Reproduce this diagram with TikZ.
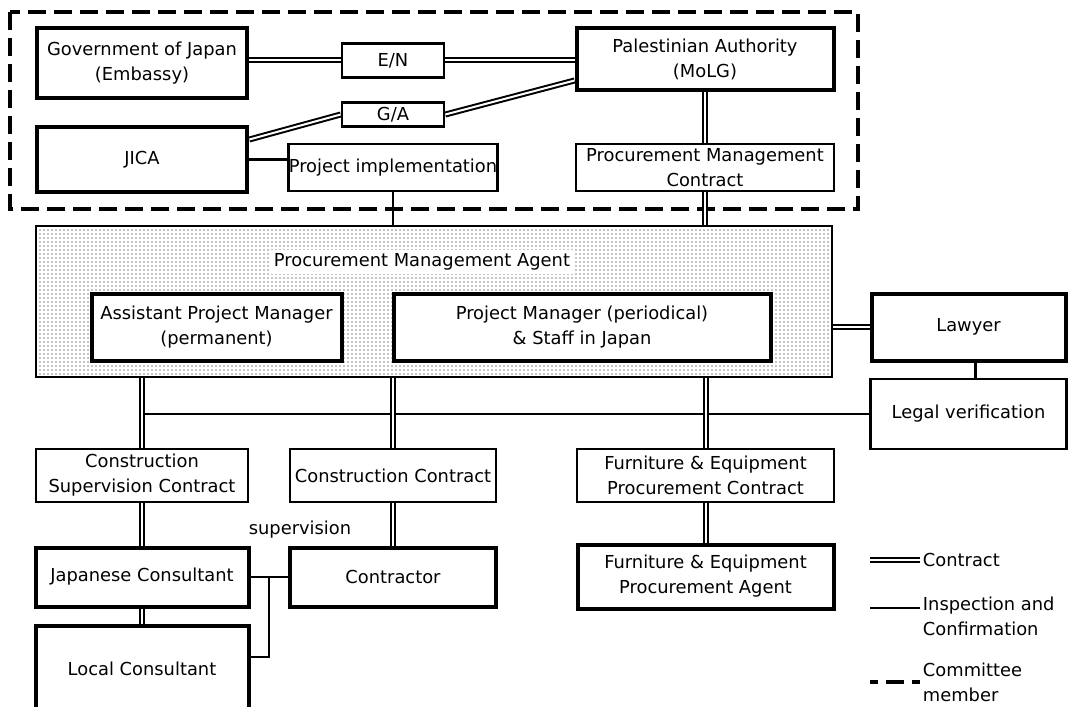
\documentclass[tikz,border=0pt]{standalone}
\usepackage{fontspec}
\setmainfont{DejaVu Sans}
\usetikzlibrary{positioning, patterns}
\pgfdeclarelayer{bg}
\pgfsetlayers{bg,main}

\begin{document}
\begin{tikzpicture}[
  x=0.75pt, y=-0.75pt,
  font=\fontsize{13.4}{18.75}\selectfont,
  party/.style={draw, line width=3pt, align=center, inner sep=0pt, fill=white},
  paper/.style={draw, line width=2pt, align=center, inner sep=0pt, fill=white},
  contract/.style={line width=1.5pt, double, double distance=1.5pt},
  inspect/.style={line width=2pt},
  member/.style={line width=3.5pt, dash pattern=on 13.5pt off 6pt}
]
  \useasboundingbox (0,0) rectangle (1069,706);

  \node[party, minimum width=158pt, minimum height=52.5pt] (gov) at (142,63.5) {Government of Japan\\(Embassy)};
  \node[paper, minimum width=76.5pt, minimum height=25.5pt] (en) at (393,60.5) {E/N};
  \node[paper, minimum width=76.5pt, minimum height=18pt] (ga) at (393,114.5) {G/A};
  \node[party, minimum width=158pt, minimum height=48pt] (jica) at (142,159.5) {JICA};
  \node[paper, minimum width=154.5pt, minimum height=35.25pt] (impl) at (393,167.5) {Project implementation};
  \node[party, minimum width=192.75pt, minimum height=46.5pt] (pa) at (705,59.5) {Palestinian Authority\\(MoLG)};
  \node[paper, minimum width=193.5pt, minimum height=35.25pt] (pmc) at (705,167.5) {Procurement Management\\Contract};

  \node[draw, line width=2pt, pattern=dots, pattern color=black, minimum width=597pt, minimum height=113.25pt] (pma) at (434,301.5) {};
  \node[fill=white, inner sep=3pt] (pmalabel) at (422,262) {Procurement Management Agent};
  \node[party, minimum width=187.5pt, minimum height=50.25pt] (apm) at (216.5,327) {Assistant Project Manager\\(permanent)};
  \node[party, minimum width=282.75pt, minimum height=50.25pt] (pm) at (582,327) {Project Manager (periodical)\\\& Staff in Japan};
  \node[party, minimum width=145.5pt, minimum height=50.25pt] (lawyer) at (968.5,327) {Lawyer};
  \node[paper, minimum width=147pt, minimum height=52.5pt] (legal) at (968.5,414) {Legal verification};

  \node[paper, minimum width=159pt, minimum height=39.75pt] (csc) at (142,475.5) {Construction\\Supervision Contract};
  \node[paper, minimum width=154.5pt, minimum height=39.75pt] (cc) at (393,475.5) {Construction Contract};
  \node[paper, minimum width=192.75pt, minimum height=39.75pt] (fepc) at (705.5,475.5) {Furniture \& Equipment\\Procurement Contract};
  \node[party, minimum width=159.75pt, minimum height=44.25pt] (jc) at (142,577) {Japanese Consultant};
  \node[party, minimum width=154.5pt, minimum height=44.25pt] (con) at (393,577) {Contractor};
  \node[party, minimum width=192pt, minimum height=48pt] (fepa) at (705.5,576.5) {Furniture \& Equipment\\Procurement Agent};
  \node[party, minimum width=159.75pt, minimum height=64.5pt] (local) at (142,669) {Local Consultant};
  \node (svlabel) at (300,530) {supervision};

  \coordinate (split) at (269,577);
  \coordinate (lgc) at (870,560);
  \coordinate (lgi) at (870,608);
  \coordinate (lgm) at (870,682);

  \begin{pgfonlayer}{bg}
    \draw[member] (10,12) rectangle (858,209);
    \draw[contract] (gov.east |- en) -- (en.west);
    \draw[contract] (en.east) -- (en.east -| pa.west);
    \draw[contract] ([yshift=-10.5pt]jica.north east) -- (ga.west);
    \draw[contract] (ga.east) -- ([yshift=9pt]pa.south west);
    \draw[inspect] (jica.east) -- (jica.east -| impl.west);
    \draw[contract] (pa.south) -- (pmc.north);
    \draw[inspect] (impl.south) -- (impl.south |- pma.north);
    \draw[contract] (pmc.south) -- (pmc.south |- pma.north);
    \draw[contract] (pma.east |- lawyer) -- (lawyer.west);
    \draw[inspect] ([xshift=5pt]lawyer.south) -- ([xshift=5pt]legal.north);
    \draw[inspect] (csc.north |- legal.west) -- (legal.west);
    \draw[contract] (pma.south -| csc) -- (csc.north);
    \draw[contract] (csc.south) -- (jc.north);
    \draw[contract] (jc.south) -- (local.north);
    \draw[contract] (pma.south -| cc) -- (cc.north);
    \draw[contract] (cc.south) -- (con.north);
    \draw[contract] (pma.south -| fepc) -- (fepc.north);
    \draw[contract] (fepc.south) -- (fepa.north);
    \draw[inspect] (jc.east) -- (con.west);
    \draw[inspect] (split) |- ([yshift=9pt]local.east);
  \end{pgfonlayer}

  \draw[contract] (lgc) -- ++(50,0) coordinate (lgce);
  \draw[inspect] (lgi) -- ++(50,0) coordinate (lgie);
  \draw[member, dash phase=7.5pt] (lgm) -- ++(50,0) coordinate (lgme);
  \node[right=2pt of lgce, inner sep=0pt] (lgctext) {Contract};
  \node[right=2pt of lgie, inner sep=0pt, align=left, yshift=-6.4pt] (lgitext) {Inspection and\\Confirmation};
  \node[right=2pt of lgme, inner sep=0pt, align=left] (lgmtext) {Committee\\member};
\end{tikzpicture}
\end{document}
